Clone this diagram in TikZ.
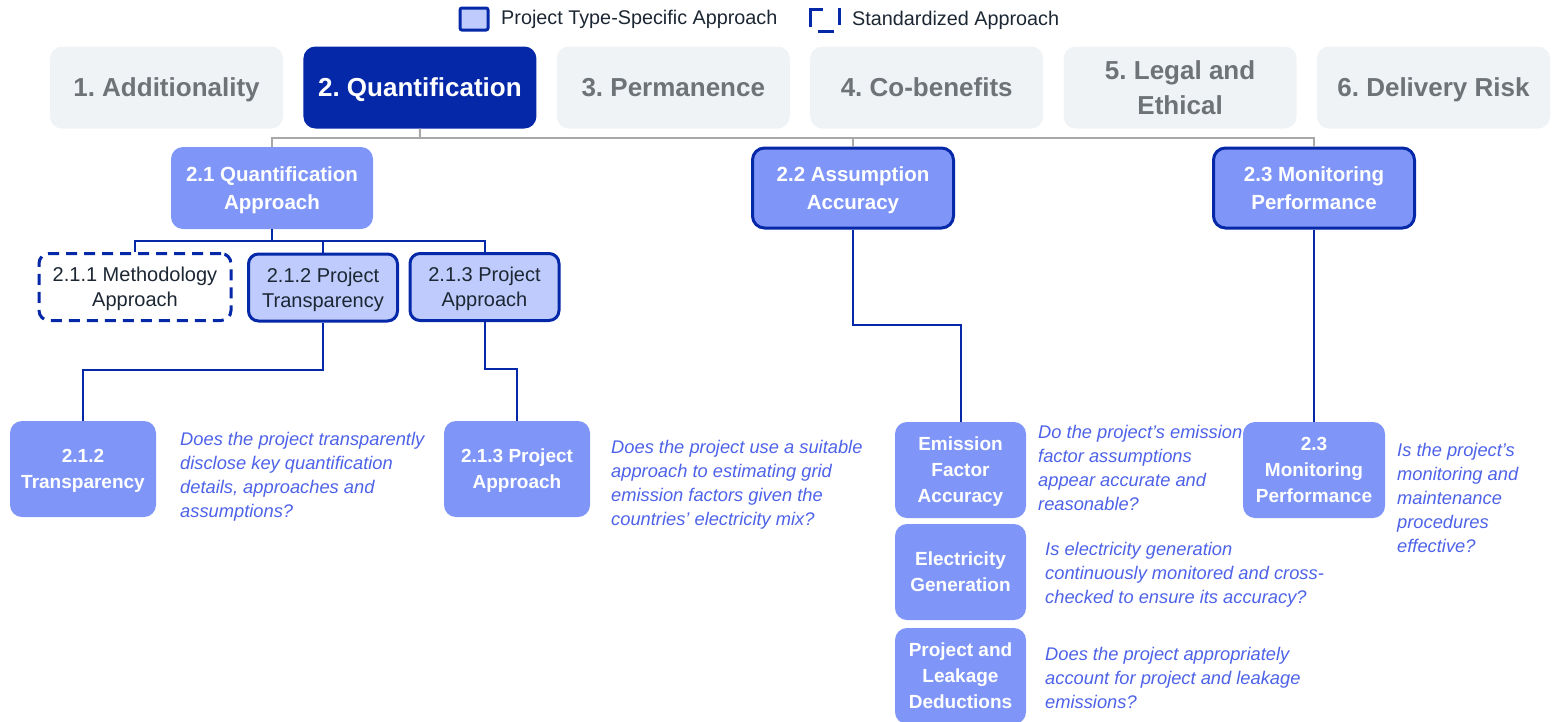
\documentclass[tikz,border=0pt]{standalone}
\usepackage{fontspec}
\setmainfont{Liberation Sans}
\usetikzlibrary{calc}
\frenchspacing
\definecolor{qblue}{RGB}{5,40,168}
\definecolor{midblue}{RGB}{127,150,248}
\definecolor{lightblue}{RGB}{190,203,252}
\definecolor{qtext}{RGB}{77,98,232}
\definecolor{tabgrey}{RGB}{240,243,246}
\definecolor{tabtext}{RGB}{110,115,120}
\definecolor{greyline}{RGB}{168,168,168}
\definecolor{darktext}{RGB}{28,39,51}
\newcommand{\capstrut}{\rule[\dimexpr-0.5\baselineskip+0.358em\relax]{0pt}{\baselineskip}}
\begin{document}
\begin{tikzpicture}[x=1pt,y=-1pt,
 capcenter/.style={execute at end node=\capstrut},
 tab/.style={capcenter, rounded corners=12, fill=tabgrey, text=tabtext, minimum width=233, minimum height=82, align=center, inner sep=0, font=\fontsize{26}{35}\selectfont\bfseries},
 tabsel/.style={tab, fill=qblue, text=white},
 crit/.style={capcenter, rounded corners=12, fill=midblue, text=white, minimum width=202, minimum height=82, align=center, inner sep=0, font=\fontsize{20.5}{28}\selectfont\bfseries},
 critframe/.style={crit, draw=qblue, line width=3, minimum width=201, minimum height=80},
 sub/.style={capcenter, rounded corners=10, fill=lightblue, draw=qblue, line width=3, text=darktext, minimum width=149, minimum height=67, align=center, inner sep=0, font=\fontsize{20}{25}\selectfont},
 substd/.style={sub, fill=white, dash pattern=on 11pt off 7pt},
 detail/.style={capcenter, rounded corners=12, fill=midblue, text=white, minimum width=146, minimum height=96, align=center, inner sep=0, font=\fontsize{19}{26}\selectfont\bfseries},
 question/.style={anchor=north west, inner sep=0, align=left, text=qtext, font=\fontsize{18.3}{24}\selectfont\itshape},
 greylink/.style={draw=greyline, line width=2},
 link/.style={draw=qblue, line width=2},
 keyline/.style={draw=qblue, line width=3},
 keytext/.style={anchor=west, inner sep=0, text=darktext, font=\fontsize{19.8}{22}\selectfont}]
\useasboundingbox (0,0) rectangle (1556,721);

\node[draw=qblue, line width=3, fill=lightblue, rounded corners=2, minimum width=28, minimum height=22, inner sep=0] (keysolid) at (474,19) {};
\node[keytext] (keysolidtext) at (501,19) {Project Type-Specific Approach};
\draw[keyline] (810.5,27) |- (823,9.5);
\draw[keyline] (839.5,8) -- (839.5,25);
\draw[keyline] (818,31.5) -- (834,31.5);
\node[keytext] (keydashtext) at (852,20) {Standardized Approach};

\foreach \i/\lbl/\sty in {1/{1. Additionality}/tab, 2/{2. Quantification}/tabsel, 3/{3. Permanence}/tab, 4/{4. Co-benefits}/tab, 5/{5. Legal and\\Ethical}/tab, 6/{6. Delivery Risk}/tab}
 \node[\sty] (tab\i) at ({166.5+253.4*(\i-1)},87.5) {\capstrut\lbl};

\node[crit] (crit21) at (272,188) {\capstrut 2.1 Quantification\\Approach};
\node[critframe] (crit22) at (853,188) {\capstrut 2.2 Assumption\\Accuracy};
\node[critframe] (crit23) at (1314,188) {\capstrut 2.3 Monitoring\\Performance};
\coordinate (hub) at (420,138);
\draw[greylink] (tab2.south) -- (hub);
\draw[greylink] (crit21.north) |- (hub) -| (crit23.north);
\draw[greylink] (hub -| crit22.north) -- (crit22.north);

\node[substd, minimum width=192] (sub211) at (135,287) {\capstrut 2.1.1 Methodology\\Approach};
\node[sub] (sub212) at (323,287.5) {\capstrut 2.1.2 Project\\Transparency};
\node[sub] (sub213) at (484.5,287) {\capstrut 2.1.3 Project\\Approach};
\coordinate (fork21) at (272,241);
\draw[link] (crit21.south) -- (fork21);
\draw[link] (sub211.north) |- (fork21) -| (sub213.north);
\draw[link] (fork21 -| sub212.north) -- (sub212.north);

\node[detail] (det212) at (83,469) {\capstrut 2.1.2\\Transparency};
\node[detail] (det213) at (517,469) {\capstrut 2.1.3 Project\\Approach};
\draw[link] (sub212.south) -- ++(0,47) -| (det212.north);
\draw[link] (sub213.south) -- ++(0,47) -| (det213.north);
\node[question] (q212) at (180,432.5) {Does the project transparently\\disclose key quantification\\details, approaches and\\assumptions?};
\node[question] (q213) at (611,440.5) {Does the project use a suitable\\approach to estimating grid\\emission factors given the\\countries’ electricity mix?};

\node[detail, minimum width=131] (detEFA) at (960.5,470) {\capstrut Emission\\Factor\\Accuracy};
\node[detail, minimum width=131] (detEG) at (960.5,572) {\capstrut Electricity\\Generation};
\node[detail, minimum width=131] (detPLD) at (960.5,676) {\capstrut Project and\\Leakage\\Deductions};
\draw[link] (crit22.south) -- ++(0,95) -| (detEFA.north);
\node[question] (qEFA) at (1038,425.5) {Do the project’s emission\\factor assumptions\\appear accurate and\\reasonable?};
\node[question] (qEG) at (1045,542.5) {Is electricity generation\\continuously monitored and cross-\\checked to ensure its accuracy?};
\node[question] (qPLD) at (1045,647.5) {Does the project appropriately\\account for project and leakage\\emissions?};

\node[detail, minimum width=142] (det23) at (1314,470) {\capstrut 2.3\\Monitoring\\Performance};
\draw[link] (crit23.south) -- (det23.north);
\node[question] (q23) at (1397,443.5) {Is the project’s\\monitoring and\\maintenance\\procedures\\effective?};
\end{tikzpicture}
\end{document}
